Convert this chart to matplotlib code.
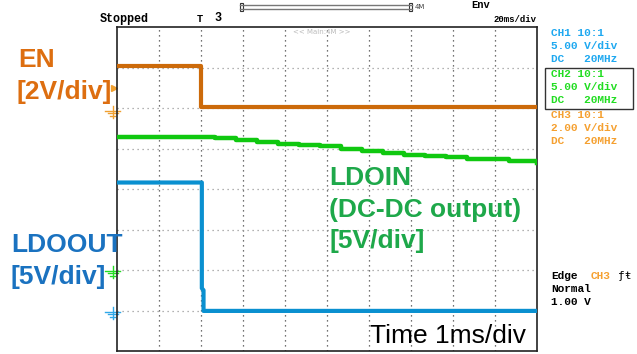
import matplotlib
matplotlib.use("Agg")
import matplotlib.pyplot as plt

# time in divisions (1ms/div), level in divisions from screen bottom
en_t = [0, 2.01, 2.01, 10]
en_v = [7.03, 7.03, 6.03, 6.03]

ldoin_t = [0, 2.33, 2.83, 3.33, 3.83, 4.33, 4.83, 5.33, 5.83, 6.33, 6.83, 7.33, 7.83, 8.33, 8.83, 9.33, 10]
ldoin_v = [5.28, 5.25, 5.20, 5.15, 5.11, 5.08, 5.05, 5.00, 4.95, 4.90, 4.84, 4.81, 4.78, 4.75, 4.73, 4.69, 4.64]

ldoout_t = [0, 2.02, 2.02, 2.06, 2.06, 10]
ldoout_v = [4.16, 4.16, 1.55, 1.5, 0.99, 0.99]

# ground reference levels (div) of CH3, CH2, CH1
gnd_levels = [5.93, 1.98, 0.97]
gnd_colors = ["#F0A030", "#22DD22", "#30A8E8"]

W, H = 637, 354
fig = plt.figure(figsize=(6.37, 3.54), dpi=100)
fig.patch.set_facecolor("white")
ax = fig.add_axes([117 / W, 3 / H, 420 / W, 324 / H])
ax.set_xlim(0, 10)
ax.set_ylim(0, 8)
ax.set_xticks([])
ax.set_yticks([])
for s in ax.spines.values():
    s.set_color("#222222")
    s.set_linewidth(1.2)

# graticule
for i in range(1, 10):
    ax.axvline(i, color="#444444", lw=0.9, ls=(0, (1, 3)), zorder=1)
for j in range(1, 8):
    ax.axhline(j, color="#999999", lw=0.9, ls=(0, (1, 3)), zorder=1)

# traces
ax.plot(ldoin_t, ldoin_v, color="#10C810", lw=3.2, drawstyle="steps-post", zorder=3)
ax.plot(en_t, en_v, color="#CC6A0A", lw=3.0, zorder=4)
ax.plot(ldoout_t, ldoout_v, color="#0A90D0", lw=3.0, zorder=4)

# channel markers on the left edge
ax.plot([-0.08], [6.5], marker=">", color="#F0A030", ms=5, clip_on=False)
trans = ax.get_yaxis_transform()
for lv, col in zip(gnd_levels, gnd_colors):
    # small ground symbol just left of the screen
    for dy, hw in [(0.0, 0.018), (-0.06, 0.012), (-0.12, 0.006)]:
        ax.plot([-0.01 - hw, -0.01 + hw], [lv + dy, lv + dy], color=col, lw=1.0,
                transform=trans, clip_on=False)
    ax.plot([-0.01, -0.01], [lv + 0.12, lv - 0.18], color=col, lw=1.0,
            transform=trans, clip_on=False)


def fx(px):
    return px / W


def fy(py):
    return 1 - py / H


mono = dict(family="Liberation Mono", fontweight="bold")

# scope header
fig.text(fx(100), fy(19), "Stopped", fontsize=8.5, va="center", **mono)
fig.text(fx(197), fy(19), "T", fontsize=7.5, va="center", **mono)
fig.text(fx(214), fy(18), "3", fontsize=8.5, va="center", **mono)
fig.add_artist(plt.Line2D([fx(240), fx(412)], [fy(5), fy(5)], color="#777777", lw=1.0))
fig.add_artist(plt.Line2D([fx(240), fx(412)], [fy(9), fy(9)], color="#777777", lw=1.0))
fig.add_artist(plt.Rectangle((fx(240), fy(11)), 3 / W, 8 / H, fill=False, lw=0.8, ec="#333333"))
fig.add_artist(plt.Rectangle((fx(409), fy(11)), 3 / W, 8 / H, fill=False, lw=0.8, ec="#333333"))
fig.text(fx(415), fy(7), "4M", fontsize=5, va="center", family="DejaVu Sans", color="#444444")
fig.text(fx(471), fy(5), "Env", fontsize=7.5, va="center", **mono)
fig.text(fx(537), fy(19), "20ms/div", fontsize=6.5, va="center", ha="right", **mono)
fig.text(fx(322), fy(32), "<< Main:4M >>", fontsize=5, va="center", ha="center",
         family="DejaVu Sans", color="#BBBBBB")

# channel settings panel
ch_info = [("CH1 10:1", "5.00 V/div", "DC   20MHz", "#1EA8F0", 33),
           ("CH2 10:1", "5.00 V/div", "DC   20MHz", "#22DD22", 74),
           ("CH3 10:1", "2.00 V/div", "DC   20MHz", "#F5A030", 115)]
for a, b, c, col, y0 in ch_info:
    for k, s in enumerate([a, b, c]):
        fig.text(fx(551), fy(y0 + 13 * k), s, fontsize=8, color=col, va="center", **mono)
fig.add_artist(plt.Rectangle((fx(545), fy(109)), 88 / W, 41 / H, fill=False, lw=1.0, ec="#333333"))

fig.text(fx(551), fy(276), "Edge", fontsize=8, va="center", **mono)
fig.text(fx(591), fy(276), "CH3", fontsize=8, va="center", color="#F5A030", **mono)
fig.text(fx(618), fy(276), "\u0192\u0167", fontsize=8, va="center", family="DejaVu Sans Mono")
fig.text(fx(551), fy(289), "Normal", fontsize=8, va="center", **mono)
fig.text(fx(551), fy(302), "1.00 V", fontsize=8, va="center", **mono)

# annotations
big = dict(family="Liberation Sans", fontweight="bold", fontsize=19, va="center")
fig.text(fx(18), fy(60), "EN", color="#DD6E10", **big)
fig.text(fx(16), fy(92), "[2V/div]", color="#DD6E10", **big)
fig.text(fx(11), fy(245), "LDOOUT", color="#1A72C0", **big)
fig.text(fx(11), fy(277), "[5V/div]", color="#1A72C0", **big)
fig.text(fx(329), fy(178), "LDOIN", color="#1EA84A", **big)
fig.text(fx(329), fy(210), "(DC-DC output)", color="#1EA84A", **big)
fig.text(fx(329), fy(241), "[5V/div]", color="#1EA84A", **big)
fig.text(fx(370), fy(336), "Time 1ms/div", family="Liberation Sans", fontsize=19,
         va="center", color="black")

fig.savefig("out.png", dpi=100)
